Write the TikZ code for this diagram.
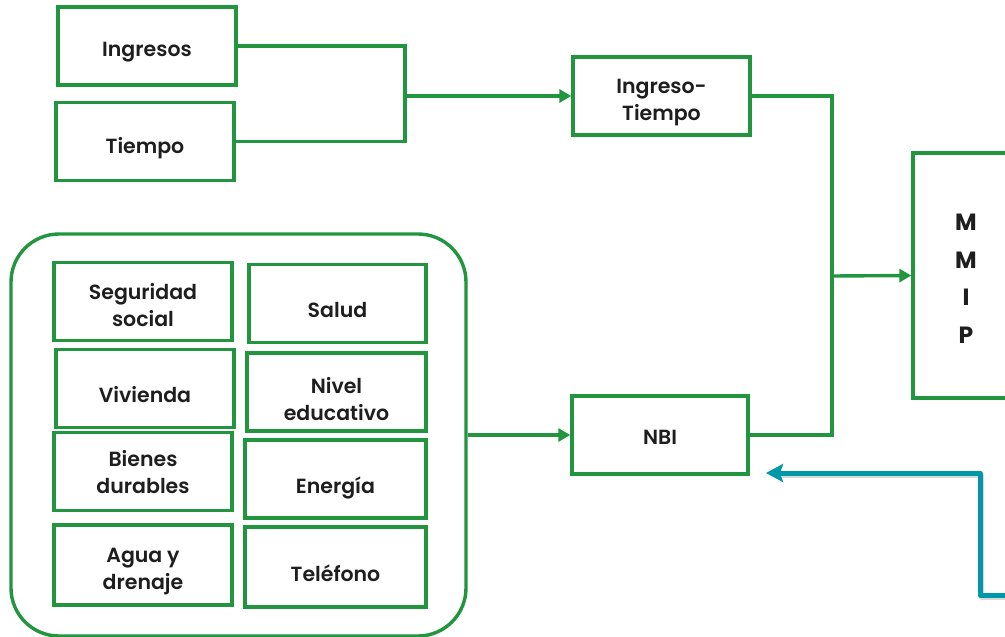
\documentclass[tikz,border=0pt]{standalone}
\usepackage{fontspec}
\setmainfont{Poppins}[UprightFont=* SemiBold, BoldFont=* Bold]
\usetikzlibrary{arrows.meta}
\definecolor{grn}{RGB}{33,150,62}
\definecolor{tealc}{RGB}{0,152,168}
\definecolor{txt}{RGB}{30,30,30}
\newcommand\lbl[2][-5pt]{\raisebox{#1}[\height][\depth]{\begin{tabular}{@{}c@{}}#2\end{tabular}}}
\begin{document}
\begin{tikzpicture}[x=1pt,y=-1pt,
  box/.style={draw=grn, line width=3.4pt, minimum width=178pt, minimum height=78pt, font=\fontsize{20.5}{27}\selectfont, text=txt, inner sep=0pt},
  conn/.style={draw=grn, line width=3.4pt},
  arr/.style={conn, -{Triangle[length=12pt,width=13pt]}},
  tarr/.style={draw=tealc, line width=5pt, line join=round, -{Stealth[length=17pt,width=18pt,inset=3pt]}},
  tshadow/.style={draw=black!15, line width=5pt, line join=round}
]
\useasboundingbox (0,0) rectangle (1005,637);
% top-left
\node[box] (ing) at (147,46) {\lbl[-5pt]{Ingresos}};
\node[box] (tie) at (145,141.5) {\lbl[-7pt]{Tiempo}};
\node[box, minimum width=177pt] (it) at (661.5,96) {\lbl[-6pt]{Ingreso-\\Tiempo}};
\node[box, minimum width=106pt, minimum height=245pt, font=\fontsize{23.5}{37.5}\selectfont\bfseries] (mmip) at (966,275.5) {\lbl[-4pt]{M\\M\\I\\P}};
\node[box, minimum width=176pt] (nbi) at (660,435) {\lbl[-4pt]{NBI}};
% group
\node[draw=grn, line width=3.4pt, rounded corners=48pt, minimum width=455pt, minimum height=402pt, inner sep=0pt] (grp) at (238.5,435) {};
\node[box] (seg) at (143,301.5) {\lbl[-6pt]{Seguridad\\social}};
\node[box, minimum width=177pt] (sal) at (337.5,303.5) {\lbl[-9pt]{Salud}};
\node[box] (viv) at (145,388.5) {\lbl[-9pt]{Vivienda}};
\node[box, minimum width=179pt] (niv) at (336.5,392) {\lbl[-9.5pt]{Nivel\\educativo}};
\node[box] (bie) at (143,471.5) {\lbl[-3pt]{Bienes\\durables}};
\node[box, minimum width=181pt] (ene) at (335.5,479) {\lbl[-9pt]{Energía}};
\node[box, minimum height=80pt] (agu) at (143,565) {\lbl[-6pt]{Agua y\\drenaje}};
\node[box, minimum width=181pt, minimum height=80pt] (tel) at (335.5,567) {\lbl[-9pt]{Teléfono}};
% connectors
\coordinate (j1) at (405,96);
\coordinate (j2) at (832,276);
\draw[conn] (ing.east) -| (j1) |- (tie.east);
\draw[arr] (j1) -- (it.west);
\draw[conn] (it.east) -| (j2) |- (nbi.east);
\draw[arr] (j2) -- (mmip.west);
\draw[arr] (grp.east) -- (nbi.west);
% teal arrow
\coordinate (ts) at (1012,595);
\coordinate (tc) at (980,473);
\coordinate (te) at (766,473);
\draw[tshadow] ([xshift=1.5pt,yshift=-2pt]ts) -| ([xshift=1.5pt,yshift=-2pt]tc) -- ([xshift=16pt,yshift=-2pt]te);
\draw[tarr] (ts) -| (tc) -- (te);
\end{tikzpicture}
\end{document}
